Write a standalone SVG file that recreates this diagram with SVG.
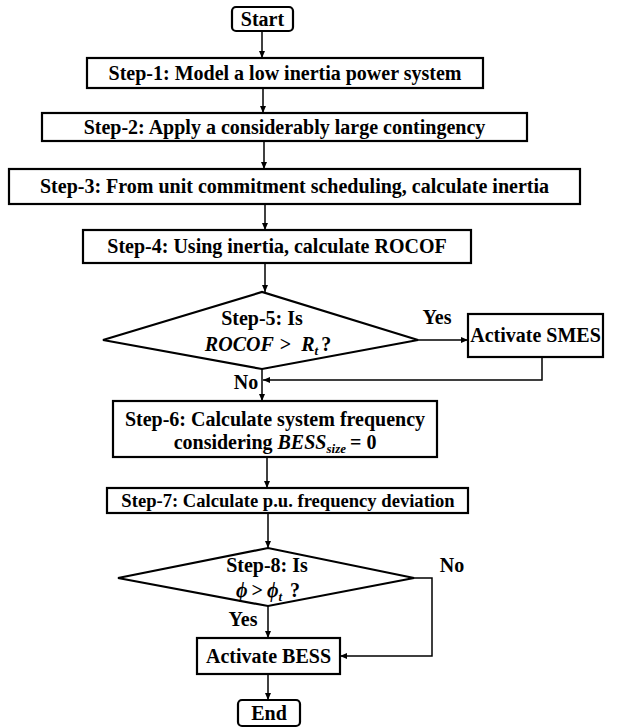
<svg xmlns="http://www.w3.org/2000/svg" width="627" height="728" viewBox="0 0 627 728">
<style>
text{font-family:"Liberation Serif","Times New Roman",serif;font-weight:bold;font-size:20px;fill:#000;text-anchor:middle}
text.s7{font-size:18.6px}
.m{font-style:italic}
.box{fill:#fff;stroke:#000;stroke-width:2.2}
.ln{fill:none;stroke:#000;stroke-width:1.5}
</style>
<defs>
<marker id="ah" markerWidth="8" markerHeight="8" refX="7" refY="4" orient="auto" markerUnits="userSpaceOnUse">
<path d="M0,1 L7,4 L0,7 Z" fill="#000"/>
</marker>
</defs>
<rect width="627" height="728" fill="#fff"/>
<g id="connectors">
<line class="ln" x1="262" y1="31" x2="262" y2="58" marker-end="url(#ah)"/>
<line class="ln" x1="263" y1="88" x2="263" y2="113" marker-end="url(#ah)"/>
<line class="ln" x1="264" y1="141" x2="264" y2="169" marker-end="url(#ah)"/>
<line class="ln" x1="265" y1="204" x2="265" y2="230" marker-end="url(#ah)"/>
<line class="ln" x1="265" y1="263" x2="265" y2="292" marker-end="url(#ah)"/>
<line class="ln" x1="418" y1="340" x2="468" y2="340" marker-end="url(#ah)"/>
<polyline class="ln" points="542,357 542,380 263,380" marker-end="url(#ah)"/>
<line class="ln" x1="262" y1="369" x2="262" y2="401" marker-end="url(#ah)"/>
<line class="ln" x1="267" y1="457" x2="267" y2="488" marker-end="url(#ah)"/>
<line class="ln" x1="268" y1="513" x2="268" y2="548" marker-end="url(#ah)"/>
<line class="ln" x1="268" y1="606" x2="268" y2="638" marker-end="url(#ah)"/>
<polyline class="ln" points="414,578 432,578 432,656 340,656" marker-end="url(#ah)"/>
<line class="ln" x1="268" y1="674" x2="268" y2="700" marker-end="url(#ah)"/>
<text x="437" y="324">Yes</text>
<text x="246" y="389">No</text>
<text x="452" y="572">No</text>
<text x="243" y="626">Yes</text>
</g>
<g id="start"><rect class="box" x="232" y="7" width="61" height="24" rx="4"/><text x="262.5" y="26">Start</text></g>
<g id="step1"><rect class="box" x="87" y="58" width="396" height="30"/><text x="285" y="80">Step-1: Model a low inertia power system</text></g>
<g id="step2"><rect class="box" x="42" y="113" width="485" height="28"/><text x="284.5" y="134">Step-2: Apply a considerably large contingency</text></g>
<g id="step3"><rect class="box" x="9" y="169" width="571" height="35"/><text x="294.5" y="193">Step-3: From unit commitment scheduling, calculate inertia</text></g>
<g id="step4"><rect class="box" x="83" y="230" width="388" height="33"/><text x="277" y="253">Step-4: Using inertia, calculate ROCOF</text></g>
<g id="step5"><polygon class="box" points="103,340 262,292 418,340 262,369"/><text x="262" y="325">Step-5: Is</text><text x="268" y="351"><tspan class="m">ROCOF</tspan><tspan dx="6">&gt;</tspan><tspan class="m" dx="10">R</tspan><tspan class="m" font-size="13" dy="4">t</tspan><tspan dy="-4" dx="3">?</tspan></text></g>
<g id="smes"><rect class="box" x="468" y="314" width="135" height="43"/><text x="535.5" y="342">Activate SMES</text></g>
<g id="step6"><rect class="box" x="113" y="401" width="324" height="56"/><text x="275" y="426">Step-6: Calculate system frequency</text><text x="275" y="449">considering <tspan class="m">BESS</tspan><tspan class="m" font-size="13" dy="4">size</tspan><tspan dy="-4" dx="4">=</tspan><tspan dx="5">0</tspan></text></g>
<g id="step7"><rect class="box" x="107" y="488" width="361" height="25"/><text class="s7" x="288" y="507">Step-7: Calculate p.u. frequency deviation</text></g>
<g id="step8"><polygon class="box" points="118,578 268,548 414,578 268,606"/><text x="267" y="572">Step-8: Is</text><text x="268" y="597"><tspan class="m">ϕ</tspan><tspan dx="4">&gt;</tspan><tspan class="m" dx="4">ϕ</tspan><tspan class="m" font-size="13" dy="4">t</tspan><tspan dy="-4" dx="8">?</tspan></text></g>
<g id="bess"><rect class="box" x="197" y="638" width="143" height="36"/><text x="268.5" y="663">Activate BESS</text></g>
<g id="end"><rect class="box" x="238" y="700" width="62" height="26" rx="4"/><text x="269" y="720">End</text></g>
</svg>
